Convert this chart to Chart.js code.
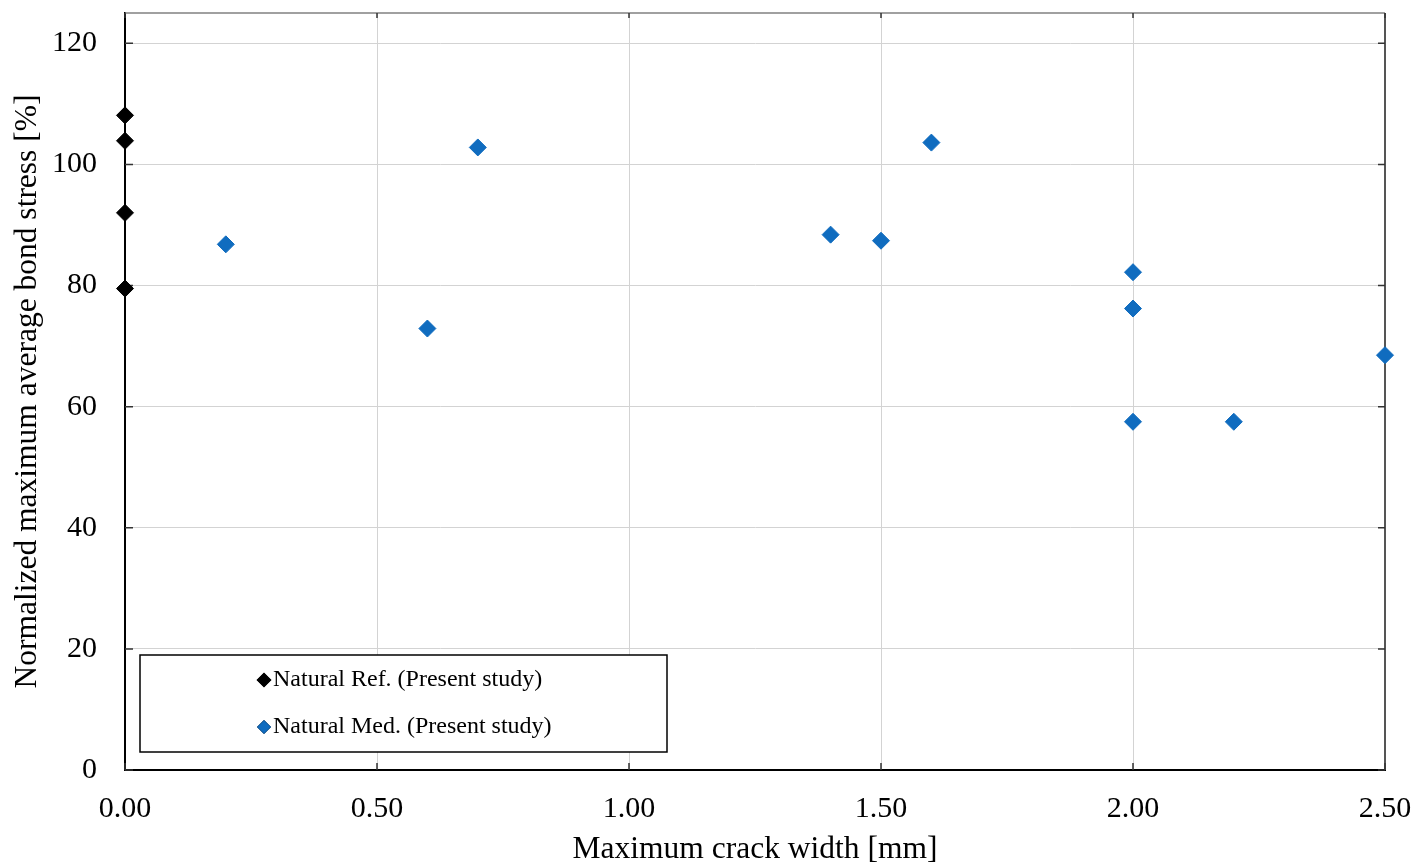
<!DOCTYPE html>
<html>
<head>
<meta charset="utf-8">
<script src="https://cdn.jsdelivr.net/npm/chart.js@4/dist/chart.umd.min.js"></script>
<style>
  html, body { margin: 0; padding: 0; background: #ffffff; }
  #wrap { position: relative; width: 1414px; height: 866px; }
</style>
</head>
<body>
<div id="wrap"><canvas id="c"></canvas></div>
<script>
// ---- data ----
const seriesLabels = ['Natural Ref. (Present study)', 'Natural Med. (Present study)'];
const refX = [0, 0, 0, 0];
const refY = [108.1, 103.9, 92.0, 79.5];
const medX = [0.2, 0.6, 0.7, 1.4, 1.5, 1.6, 2.0, 2.0, 2.0, 2.2, 2.5];
const medY = [86.8, 72.9, 102.8, 88.4, 87.4, 103.6, 82.2, 76.2, 57.5, 57.5, 68.5];
const xTickValues = [0, 0.5, 1.0, 1.5, 2.0, 2.5];
const yTickValues = [0, 20, 40, 60, 80, 100, 120];
const xTitle = 'Maximum crack width [mm]';
const yTitle = 'Normalized maximum average bond stress [%]';

const FONT = '"Liberation Serif", "Times New Roman", serif';
const BLUE = '#106cbf';

function pts(xs, ys) { return xs.map((x, i) => ({ x: x, y: ys[i] })); }

const framePlugin = {
  id: 'frame',
  beforeDatasetsDraw(chart) {
    const a = chart.chartArea, ctx = chart.ctx;
    const xs = chart.scales.x, ys = chart.scales.y;
    ctx.save();
    ctx.strokeStyle = '#808080';
    ctx.lineWidth = 1.5;
    ctx.beginPath();
    ctx.moveTo(a.left, a.top);
    ctx.lineTo(a.right, a.top);
    ctx.stroke();
    ctx.strokeStyle = '#555555';
    ctx.lineWidth = 2;
    ctx.beginPath();
    ctx.moveTo(a.right, a.top);
    ctx.lineTo(a.right, a.bottom);
    ctx.stroke();
    // inward tick marks
    ctx.strokeStyle = '#333333';
    ctx.lineWidth = 1.5;
    ctx.beginPath();
    yTickValues.forEach(v => {
      const py = ys.getPixelForValue(v);
      ctx.moveTo(a.left, py); ctx.lineTo(a.left + 8, py);
      ctx.moveTo(a.right, py); ctx.lineTo(a.right - 7, py);
    });
    xTickValues.forEach(v => {
      const px = xs.getPixelForValue(v);
      ctx.moveTo(px, a.bottom); ctx.lineTo(px, a.bottom - 7);
      ctx.moveTo(px, a.top); ctx.lineTo(px, a.top + 5);
    });
    ctx.stroke();
    ctx.restore();
  }
};

const legendPlugin = {
  id: 'boxLegend',
  afterDatasetsDraw(chart) {
    const a = chart.chartArea, ctx = chart.ctx;
    const bx = a.left + 15, by = a.bottom - 115, bw = 527, bh = 97;
    ctx.save();
    ctx.fillStyle = '#ffffff';
    ctx.fillRect(bx, by, bw, bh);
    ctx.strokeStyle = '#000000';
    ctx.lineWidth = 1.5;
    ctx.strokeRect(bx, by, bw, bh);
    ctx.font = '24px ' + FONT;
    ctx.textBaseline = 'middle';
    ctx.textAlign = 'left';
    chart.data.datasets.forEach((ds, i) => {
      const cy = by + 25 + i * 47;
      const mx = bx + 124;
      Chart.helpers.drawPoint(ctx, {
        pointStyle: 'rectRot', radius: 6.5, borderWidth: 1, rotation: 0
      }, mx, cy);
      ctx.fillStyle = ds.backgroundColor;
      ctx.strokeStyle = ds.borderColor;
      ctx.lineWidth = 1;
      ctx.fill();
      ctx.stroke();
      ctx.fillStyle = '#000000';
      ctx.fillText(ds.label, mx + 9, cy);
    });
    ctx.restore();
  }
};

new Chart(document.getElementById('c'), {
  type: 'scatter',
  data: {
    datasets: [
      {
        label: seriesLabels[0],
        data: pts(refX, refY),
        backgroundColor: '#000000',
        borderColor: '#000000',
        pointStyle: 'rectRot',
        pointRadius: 8.5,
        borderWidth: 1,
        clip: false
      },
      {
        label: seriesLabels[1],
        data: pts(medX, medY),
        backgroundColor: BLUE,
        borderColor: BLUE,
        pointStyle: 'rectRot',
        pointRadius: 8.5,
        borderWidth: 1,
        clip: false
      }
    ]
  },
  options: {
    responsive: true,
    maintainAspectRatio: false,
    animation: false,
    devicePixelRatio: 1,
    layout: { padding: { top: 13, right: 29, left: 0, bottom: 0 } },
    plugins: {
      legend: { display: false },
      tooltip: { enabled: false }
    },
    scales: {
      x: {
        type: 'linear',
        min: 0,
        max: 2.5,
        afterBuildTicks(scale) { scale.ticks = xTickValues.map(v => ({ value: v })); },
        afterFit(scale) {
          scale.height = 96;
          scale.paddingLeft = 0; scale.paddingRight = 0;
        },
        ticks: {
          callback: v => Number(v).toFixed(2),
          font: { family: FONT, size: 30 },
          color: '#000000',
          padding: 21,
          maxRotation: 0,
          autoSkip: false
        },
        grid: { color: '#d3d3d3', lineWidth: 1, drawTicks: false },
        border: { color: '#000000', width: 2 },
        title: {
          display: true,
          text: xTitle,
          font: { family: FONT, size: 31.5, lineHeight: 1.05 },
          color: '#000000',
          padding: { top: 0, bottom: 0 }
        }
      },
      y: {
        type: 'linear',
        min: 0,
        max: 125,
        afterBuildTicks(scale) { scale.ticks = yTickValues.map(v => ({ value: v })); },
        afterFit(scale) {
          scale.width = 125;
          scale.paddingTop = 0; scale.paddingBottom = 0;
        },
        ticks: {
          callback: v => String(v),
          font: { family: FONT, size: 30 },
          color: '#000000',
          padding: 28,
          autoSkip: false
        },
        grid: { color: '#d3d3d3', lineWidth: 1, drawTicks: false },
        border: { color: '#000000', width: 2 },
        title: {
          display: true,
          text: yTitle,
          font: { family: FONT, size: 31.5, lineHeight: 1.2 },
          color: '#000000',
          padding: { top: 9, bottom: 0 }
        }
      }
    }
  },
  plugins: [framePlugin, legendPlugin]
});
</script>
</body>
</html>
